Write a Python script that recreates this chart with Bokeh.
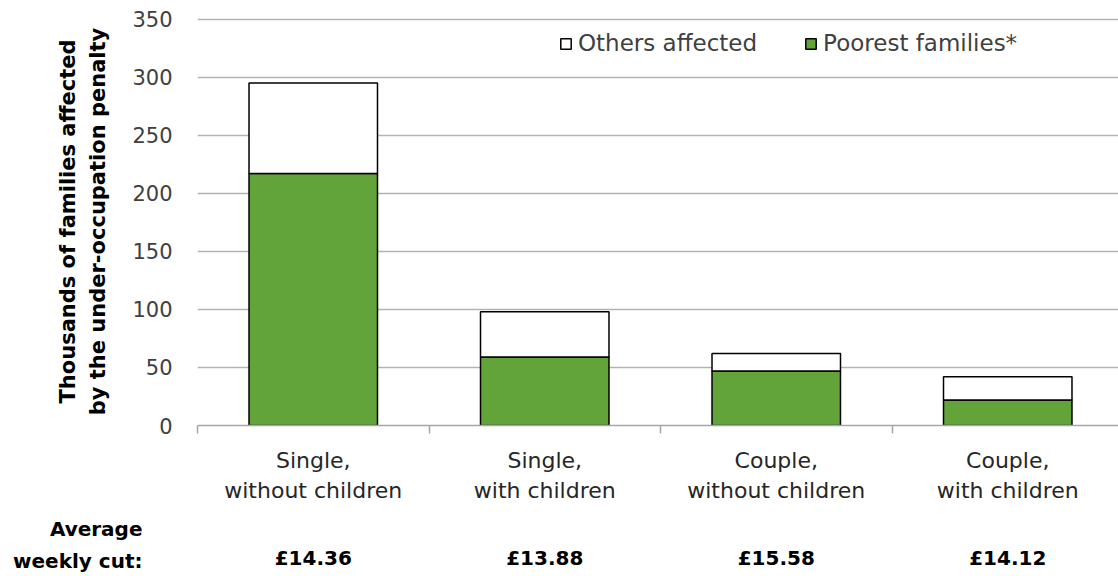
from bokeh.plotting import figure
from bokeh.layouts import column
from bokeh.models import Range1d, FixedTicker, ColumnDataSource, Legend, LegendItem
from bokeh.core.properties import value
from bokeh.embed import file_html
from bokeh.resources import INLINE

# ---- data ----
categories = ["Single,\nwithout children", "Single,\nwith children",
              "Couple,\nwithout children", "Couple,\nwith children"]
poorest = [217, 59, 47, 22]
others = [78, 39, 15, 20]
weekly_cut = ["£14.36", "£13.88", "£15.58", "£14.12"]
y_ticks = [0, 50, 100, 150, 200, 250, 300, 350]
series_names = ["Poorest families*", "Others affected"]
cut_caption = ["Average", "weekly cut:"]

GREEN = "#62a43a"
FONT = "DejaVu Sans"

# layout constants (pixels)
W, H = 1118, 576
LEFT = 197          # frame left
CAT_W = 231.5       # pixel width of one category
TOP_H = 445         # height of chart figure
PX_PER_UNIT = 1.161

xs = [i + 0.5 for i in range(len(categories))]
line1 = [c.split("\n")[0] for c in categories]
line2 = [c.split("\n")[1] for c in categories]

frame_h = 425 - 17
p = figure(width=W, height=TOP_H, output_backend="svg", toolbar_location=None,
           x_range=Range1d(0, (W - LEFT) / CAT_W),
           y_range=Range1d(0, frame_h / PX_PER_UNIT),
           min_border_left=LEFT, min_border_right=0, min_border_top=17,
           min_border_bottom=TOP_H - 425)
p.outline_line_color = None

src = ColumnDataSource(dict(x=xs, poorest=poorest, others=others))
rs = p.vbar_stack(["poorest", "others"], x="x", width=0.555, source=src,
                  fill_color=[GREEN, "white"], line_color="black", line_width=1.5)

legend = Legend(items=[LegendItem(label=series_names[1], renderers=[rs[1]]),
                       LegendItem(label=series_names[0], renderers=[rs[0]])],
                orientation="horizontal", location=(362, 369),
                glyph_width=13, glyph_height=13, label_standoff=6, spacing=47,
                padding=0, margin=0, border_line_color=None,
                background_fill_alpha=0, label_text_font_size="23px",
                label_text_color="#404040", label_text_font=FONT)
p.add_layout(legend)

# y axis
p.yaxis.ticker = FixedTicker(ticks=y_ticks)
p.yaxis.axis_line_color = None
p.yaxis.major_tick_line_color = None
p.yaxis.minor_tick_line_color = None
p.yaxis.major_label_text_font_size = "21px"
p.yaxis.major_label_text_color = "#404040"
p.yaxis.major_label_text_font = FONT
p.yaxis.major_label_standoff = 19
p.yaxis.axis_label = "Thousands of families affected\nby the under-occupation penalty"
p.yaxis.axis_label_text_font = FONT
p.yaxis.axis_label_text_font_style = "bold"
p.yaxis.axis_label_text_font_size = "21px"
p.yaxis.axis_label_text_color = "black"
p.yaxis.axis_label_text_line_height = 1.25
p.yaxis.axis_label_standoff = 19

p.ygrid.ticker = FixedTicker(ticks=y_ticks)
p.ygrid.grid_line_color = "#b3b3b3"
p.ygrid.grid_line_width = 1.5
p.xgrid.visible = False

# x axis (line + boundary ticks only)
p.xaxis.ticker = FixedTicker(ticks=[0, 1, 2, 3])
p.xaxis.major_label_overrides = {0: "", 1: "", 2: "", 3: ""}
p.xaxis.major_label_text_font_size = "1px"
p.xaxis.major_label_standoff = 0
p.xaxis.axis_line_color = "#a6a6a6"
p.xaxis.axis_line_width = 1.5
p.xaxis.major_tick_line_color = "#a6a6a6"
p.xaxis.major_tick_line_width = 1.5
p.xaxis.major_tick_in = 0
p.xaxis.major_tick_out = 8
p.xaxis.minor_tick_line_color = None

# ---- bottom text strip (same x scale, y in pixels from page top) ----
q = figure(width=W, height=H - TOP_H, output_backend="svg", toolbar_location=None,
           x_range=Range1d(0, (W - LEFT) / CAT_W),
           y_range=Range1d(H, TOP_H),
           min_border_left=LEFT, min_border_right=0, min_border_top=0,
           min_border_bottom=0, x_axis_location=None, y_axis_location="left")
q.outline_line_color = None
q.xgrid.visible = False
q.ygrid.visible = False

# caption on the left as axis tick labels
cap_y = [528, 560]
q.yaxis.ticker = FixedTicker(ticks=cap_y)
q.yaxis.major_label_overrides = {cap_y[0]: cut_caption[0], cap_y[1]: cut_caption[1]}
q.yaxis.axis_line_color = None
q.yaxis.major_tick_line_color = None
q.yaxis.minor_tick_line_color = None
q.yaxis.major_tick_out = 0
q.yaxis.major_tick_in = 0
q.yaxis.major_label_standoff = LEFT - 142
q.yaxis.major_label_text_font = FONT
q.yaxis.major_label_text_font_size = "20px"
q.yaxis.major_label_text_font_style = "bold"
q.yaxis.major_label_text_color = "black"

q.text(x=xs, y=[460] * 4, text=line1, text_align="center", text_baseline="middle",
       text_font=value(FONT), text_font_size="22px", text_color="#262626")
q.text(x=xs, y=[490] * 4, text=line2, text_align="center", text_baseline="middle",
       text_font=value(FONT), text_font_size="22px", text_color="#262626")
q.text(x=xs, y=[557] * 4, text=weekly_cut, text_align="center", text_baseline="middle",
       text_font=value(FONT), text_font_size="20px", text_font_style="bold",
       text_color="black")

layout = column(p, q, spacing=0)
open("out.html", "w").write(file_html(layout, INLINE))
